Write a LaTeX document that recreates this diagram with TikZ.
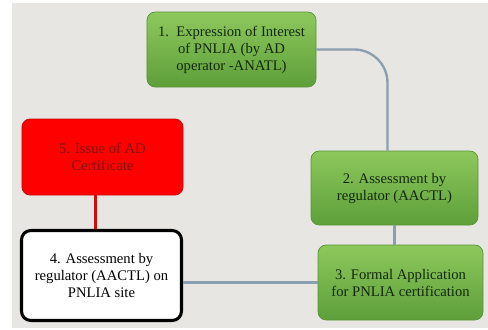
\documentclass[tikz,border=0pt]{standalone}
\usepackage{fontspec}
\setmainfont{Liberation Serif}
\usetikzlibrary{positioning, calc, shadows}
\definecolor{bggray}{HTML}{E8E6E2}
\definecolor{greentop}{HTML}{8DC85C}
\definecolor{greenbot}{HTML}{5E9F3A}
\definecolor{greenline}{HTML}{5A9438}
\definecolor{linkblue}{HTML}{8A9FB0}
\definecolor{redline}{HTML}{C81010}
\definecolor{redtext}{HTML}{7A1515}
\definecolor{greentext}{HTML}{12280C}
\tikzstyle{greenbox} = [rectangle, draw=greenline, top color=greentop, bottom color=greenbot, rounded corners=7pt, align=center, text=greentext, font=\fontsize{12.5}{14.5}\selectfont, line width=0.6pt]
\tikzstyle{redbox} = [rectangle, draw=redline, fill=red, rounded corners=7pt, align=center, text=redtext, font=\fontsize{12.5}{14.5}\selectfont, line width=0.8pt]
\tikzstyle{sitebox} = [rectangle, draw=black, fill=white, rounded corners=8pt, align=center, font=\fontsize{12.5}{14.5}\selectfont, line width=2.6pt]
\tikzstyle{link} = [draw=linkblue, line width=2pt]

\begin{document}
\begin{tikzpicture}[x=0.03cm, y=-0.03cm]
        % Background
        \fill[white] (0,0) rectangle (488,329);
        \fill[bggray] (12,3) rectangle (488,328);
        \useasboundingbox (0,0) rectangle (488,329);

        % Green steps
        \node[greenbox, minimum width=5.07cm, minimum height=2.25cm] (interest) at (231.5,49.5) {1.\ \ Expression of Interest\\of PNLIA (by AD\\operator -ANATL)};
        \node[greenbox, minimum width=5.01cm, minimum height=2.22cm] (assess) at (394.5,188) {2. Assessment by\\regulator (AACTL)};
        \node[greenbox, minimum width=4.95cm, minimum height=2.25cm] (formal) at (400.5,282.5) {3. Formal Application\\for PNLIA certification};

        % Left side
        \node[sitebox, minimum width=4.8cm, minimum height=2.7cm] (site) at (101.5,275.5) {4. Assessment by\\regulator (AACTL) on\\PNLIA site};
        \node[redbox, minimum width=4.83cm, minimum height=2.28cm] (issue) at (102.5,157) {5. Issue of AD\\Certificate};

        % Links
        \draw[link, rounded corners=1cm] (interest.east) -| ([xshift=-0.21cm]assess.north);
        \draw[link] (assess.south) -- (assess.south |- formal.north);
        \draw[link] (formal.west) -- (formal.west -| site.east);
        \draw[redline, line width=2pt] ([xshift=-0.21cm]issue.south) -- ([xshift=-0.21cm]issue.south |- site.north);
    \end{tikzpicture}
\end{document}
